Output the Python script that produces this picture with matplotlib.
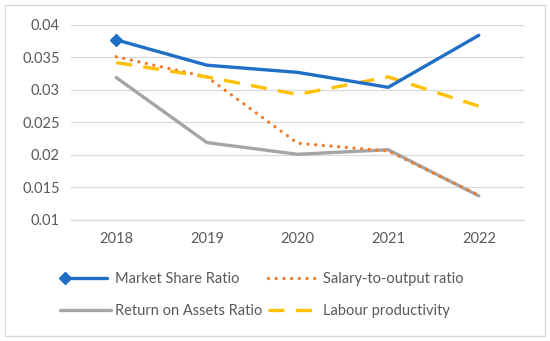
import matplotlib
matplotlib.use("Agg")
import matplotlib.pyplot as plt
from matplotlib.legend_handler import HandlerLine2D
from matplotlib.patches import Rectangle

years = ["2018", "2019", "2020", "2021", "2022"]
market_share = [0.0377, 0.0338, 0.0327, 0.0304, 0.0384]
salary_output = [0.0351, 0.0320, 0.0218, 0.0206, 0.0138]
return_assets = [0.0319, 0.0219, 0.0201, 0.0208, 0.0137]
labour_prod = [0.0342, 0.0320, 0.0293, 0.0320, 0.0275]

plt.rcParams['font.family'] = ['Lato', 'DejaVu Sans']

BLUE = "#1f6fc6"
ORANGE = "#f07a2a"
GRAY = "#a5a5a5"
YELLOW = "#ffc000"
TXT = "#595959"


class FirstMarkerHandler(HandlerLine2D):
    # excel draws the marker only at the left end of the legend line
    def create_artists(self, legend, orig_handle, xdescent, ydescent,
                       width, height, fontsize, trans):
        arts = super().create_artists(legend, orig_handle, xdescent, ydescent,
                                      width, height, fontsize, trans)
        for a in arts:
            if a.get_marker() not in (None, "None", ""):
                a.set_markevery([0])
        return arts


fig = plt.figure(figsize=(5.5, 3.41), dpi=100)
ax = fig.add_axes([0.129, 0.355, 0.824, 0.572])

x = range(len(years))
lw = 2.4
l1, = ax.plot(x, market_share, color=BLUE, lw=lw, marker="D", markersize=6,
              markevery=[0], solid_joinstyle="round", solid_capstyle="round",
              label="Market Share Ratio", zorder=5)
l2, = ax.plot(x, salary_output, color=ORANGE, lw=lw, linestyle=(0, (0.01, 2.3)),
              dash_capstyle="round", label="Salary-to-output ratio", zorder=3)
l3, = ax.plot(x, return_assets, color=GRAY, lw=lw, solid_capstyle="round",
              label="Return on Assets Ratio", zorder=2)
l4, = ax.plot(x, labour_prod, color=YELLOW, lw=lw, linestyle=(0, (4.8, 3.4)),
              label="Labour productivity", zorder=4)

ax.set_xlim(-0.5, 4.5)
ax.set_ylim(0.01, 0.04)
ax.set_xticks(list(x))
ax.set_xticklabels(years)
ax.set_yticks([0.01, 0.015, 0.02, 0.025, 0.03, 0.035, 0.04])
ax.set_yticklabels(["0.01", "0.015", "0.02", "0.025", "0.03", "0.035", "0.04"])
ax.grid(axis="y", color="#d9d9d9", lw=0.9)
ax.set_axisbelow(True)
for s in ["top", "right", "left"]:
    ax.spines[s].set_visible(False)
ax.spines["bottom"].set_color("#d9d9d9")
ax.spines["bottom"].set_linewidth(0.9)
ax.tick_params(axis="both", length=0, colors=TXT, labelsize=10.5)
ax.tick_params(axis="x", pad=9)
ax.tick_params(axis="y", pad=8)

leg = fig.legend([l1, l3, l2, l4],
                 ["Market Share Ratio", "Return on Assets Ratio",
                  "Salary-to-output ratio", "Labour productivity"],
                 ncol=2, loc="center", bbox_to_anchor=(0.476, 0.135),
                 frameon=False, fontsize=10.5, handlelength=3.5,
                 handletextpad=0.27, columnspacing=0.35, labelspacing=1.2,
                 handler_map={l1: FirstMarkerHandler(numpoints=2)})
for t in leg.get_texts():
    t.set_color(TXT)

fig.patches.append(Rectangle((0.009, 0.014), 0.981, 0.972, transform=fig.transFigure,
                             fill=False, edgecolor="#d9d9d9", lw=1))

fig.savefig("out.png", dpi=100)
